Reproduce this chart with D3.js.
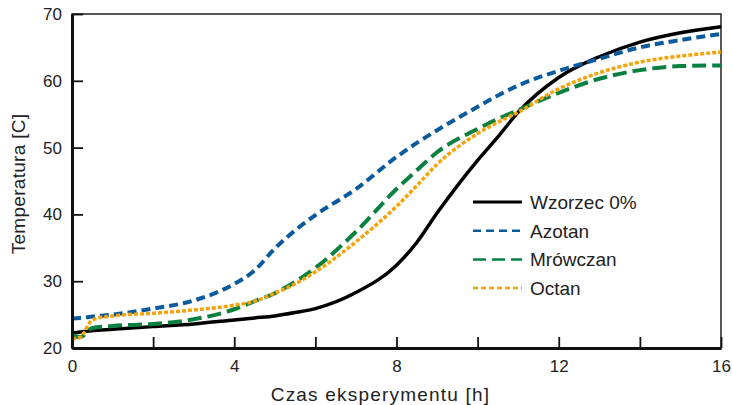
<!DOCTYPE html>
<html>
<head>
<meta charset="utf-8">
<script src="https://cdn.jsdelivr.net/npm/d3@7"></script>
<style>
  body { margin: 0; background: #fff; }
  text { font-family: "Liberation Sans", Arial, sans-serif; fill: #222; }
</style>
</head>
<body>
<script>
// data
const hours    = [0, 0.2, 0.5, 1, 2, 3, 4, 4.5, 5, 5.5, 6, 7, 8, 8.5, 9, 10, 10.5, 11, 12, 13, 14, 15, 16];
const wzorzec  = [22.2, 22.4, 22.6, 22.8, 23.2, 23.6, 24.2, 24.5, 24.8, 25.3, 25.9, 28.3, 32.4, 35.8, 40.2, 48.1, 51.6, 55.3, 60.5, 63.6, 65.8, 67.2, 68.1];
const azotan   = [24.4, 24.5, 24.7, 25.0, 25.9, 27.1, 29.6, 31.6, 34.9, 37.6, 39.9, 43.8, 48.6, 50.7, 52.6, 56.1, 57.8, 59.3, 61.5, 63.3, 65.0, 66.1, 67.0];
const mrowczan = [22.0, 21.6, 23.0, 23.3, 23.6, 24.3, 25.8, 27.0, 28.2, 29.9, 32.0, 37.4, 43.8, 46.6, 49.3, 52.8, 54.3, 55.6, 58.2, 60.3, 61.6, 62.2, 62.3];
const octan    = [21.4, 21.6, 24.2, 24.8, 25.2, 25.7, 26.4, 27.0, 28.2, 29.6, 31.4, 35.9, 41.2, 44.3, 47.5, 52.1, 53.8, 55.3, 58.8, 61.2, 62.8, 63.7, 64.3];

const seriesNames  = ["Wzorzec 0%", "Azotan", "Mrówczan", "Octan"];
const seriesData   = [wzorzec, azotan, mrowczan, octan];
const seriesColors = ["#000000", "#0a5a9c", "#0a8040", "#f5a30a"];
const seriesDash   = [null, "9,5", "14,6", "4,2"];
const seriesWidth  = [3.5, 4, 4, 3.5];
const legendDash   = [null, "8,5", "13,6", "5,3"];

const xTicks = [0, 2, 4, 6, 8, 10, 12, 14, 16];
const xLabels = [0, 4, 8, 12, 16];
const yTicks = [20, 30, 40, 50, 60, 70];

const width = 732, height = 405;
const margin = { left: 72, right: 11, top: 14, bottom: 57 };

const svg = d3.select("body").append("svg")
  .attr("width", width)
  .attr("height", height);

const x = d3.scaleLinear().domain([0, 16]).range([margin.left, width - margin.right]);
const y = d3.scaleLinear().domain([20, 70]).range([height - margin.bottom, margin.top]);

// frame top / right
svg.append("rect")
  .attr("x", x(0)).attr("y", y(70))
  .attr("width", x(16) - x(0)).attr("height", y(20) - y(70))
  .attr("fill", "none").attr("stroke", "#222").attr("stroke-width", 1.5);

// lines
const line = d3.line()
  .x((d, i) => x(hours[i]))
  .y(d => y(d))
  .curve(d3.curveMonotoneX);

const plot = svg.append("g");
seriesData.forEach((s, k) => {
  plot.append("path")
    .datum(s)
    .attr("d", line)
    .attr("fill", "none")
    .attr("stroke", seriesColors[k])
    .attr("stroke-width", seriesWidth[k])
    .attr("stroke-dasharray", seriesDash[k]);
});

// axes
const xAxis = svg.append("g")
  .attr("transform", `translate(0,${y(20)})`)
  .call(d3.axisBottom(x).tickValues(xTicks).tickSizeInner(-11).tickSizeOuter(0)
    .tickFormat(d => xLabels.includes(d) ? d : "").tickPadding(12));
xAxis.select(".domain").attr("stroke", "#111").attr("stroke-width", 3);
xAxis.selectAll(".tick line").attr("stroke", "#111").attr("stroke-width", 1.8);
xAxis.selectAll("text").attr("font-size", 17).attr("fill", "#222");

const yAxis = svg.append("g")
  .attr("transform", `translate(${x(0)},0)`)
  .call(d3.axisLeft(y).tickValues(yTicks).tickSizeInner(-11).tickSizeOuter(0).tickPadding(10));
yAxis.select(".domain").attr("stroke", "#111").attr("stroke-width", 3);
yAxis.selectAll(".tick line").attr("stroke", "#111").attr("stroke-width", 1.8);
yAxis.selectAll("text").attr("font-size", 17).attr("fill", "#222");

// axis titles
svg.append("text")
  .attr("x", x(8) - 16).attr("y", 401)
  .attr("text-anchor", "middle")
  .attr("font-size", 19)
  .attr("letter-spacing", 1.2)
  .text("Czas eksperymentu [h]");

svg.append("text")
  .attr("transform", `translate(25,184) rotate(-90)`)
  .attr("text-anchor", "middle")
  .attr("font-size", 19)
  .attr("letter-spacing", 0.3)
  .text("Temperatura [C]");

// legend
const legend = svg.append("g").attr("transform", "translate(473,202)");
seriesNames.forEach((n, k) => {
  const g = legend.append("g").attr("transform", `translate(0,${k * 28.7})`);
  g.append("line")
    .attr("x1", 0).attr("x2", 49).attr("y1", 0).attr("y2", 0)
    .attr("stroke", seriesColors[k])
    .attr("stroke-width", k === 0 ? 3 : 2.5)
    .attr("stroke-dasharray", legendDash[k]);
  g.append("text")
    .attr("x", 57).attr("y", 7)
    .attr("font-size", 19)
    .text(n);
});
</script>
</body>
</html>
